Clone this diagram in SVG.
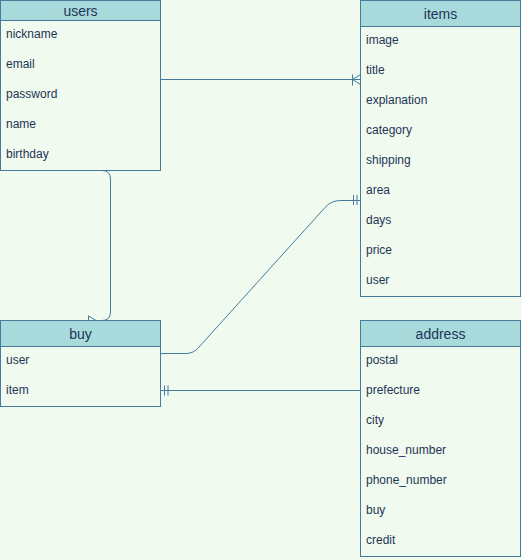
<svg xmlns="http://www.w3.org/2000/svg" width="522" height="560" viewBox="0 0 522 560">
<style>
.box{fill:#F1FAEE;stroke:#457B9D;stroke-width:1}
.hdr{fill:#A8DADC;stroke:#457B9D;stroke-width:1}
.t{font-family:"Liberation Sans",Arial,sans-serif;font-size:14px;fill:#1D3557;text-anchor:middle}
.r{font-family:"Liberation Sans",Arial,sans-serif;font-size:12px;fill:#1D3557}
.e{fill:none;stroke:#457B9D;stroke-width:1}
</style>
<rect width="522" height="560" fill="#F1FAEE"/>
<g id="connectors">
<path class="e" d="M160.5 79.5 H360.5"/>
<path class="e" d="M352.5 74.5 V85.5 M352.5 79.5 L360.5 74.5 M352.5 79.5 L360.5 84.5"/>
<path class="e" d="M96 170.5 H102 Q110.5 170.5 110.5 179 V312 Q110.5 320.5 102 320.5 H88"/>
<path class="e" d="M88.5 315.5 V325.5 M96 320.5 L88.5 316 M96 320.5 L88.5 325"/>
<path class="e" d="M160.5 353.5 H186 Q194 353.5 199 347 L325 207.5 Q331 200.5 341 200.5 H360.5"/>
<path class="e" d="M353.5 195 V205 M357 195 V205"/>
<path class="e" d="M160.5 390.5 H360.5"/>
<path class="e" d="M164.5 385.5 V395.5 M168 385.5 V395.5"/>
</g>
<g id="users">
<rect class="box" x="0.5" y="0.5" width="160" height="170"/>
<rect class="hdr" x="0.5" y="0.5" width="160" height="20"/>
<text class="t" x="80.5" y="16">users</text>
<text class="r" x="6" y="37.5">nickname</text>
<text class="r" x="6" y="67.5">email</text>
<text class="r" x="6" y="97.5">password</text>
<text class="r" x="6" y="127.5">name</text>
<text class="r" x="6" y="157.5">birthday</text>
</g>
<g id="items">
<rect class="box" x="360.5" y="0.5" width="160" height="296"/>
<rect class="hdr" x="360.5" y="0.5" width="160" height="26"/>
<text class="t" x="440.5" y="19">items</text>
<text class="r" x="366" y="43.5">image</text>
<text class="r" x="366" y="73.5">title</text>
<text class="r" x="366" y="103.5">explanation</text>
<text class="r" x="366" y="133.5">category</text>
<text class="r" x="366" y="163.5">shipping</text>
<text class="r" x="366" y="193.5">area</text>
<text class="r" x="366" y="223.5">days</text>
<text class="r" x="366" y="253.5">price</text>
<text class="r" x="366" y="283.5">user</text>
</g>
<g id="buy">
<rect class="box" x="0.5" y="320.5" width="160" height="86"/>
<rect class="hdr" x="0.5" y="320.5" width="160" height="26"/>
<text class="t" x="80.5" y="339">buy</text>
<text class="r" x="6" y="363.5">user</text>
<text class="r" x="6" y="393.5">item</text>
</g>
<g id="address">
<rect class="box" x="360.5" y="320.5" width="160" height="236"/>
<rect class="hdr" x="360.5" y="320.5" width="160" height="26"/>
<text class="t" x="440.5" y="339">address</text>
<text class="r" x="366" y="363.5">postal</text>
<text class="r" x="366" y="393.5">prefecture</text>
<text class="r" x="366" y="423.5">city</text>
<text class="r" x="366" y="453.5">house_number</text>
<text class="r" x="366" y="483.5">phone_number</text>
<text class="r" x="366" y="513.5">buy</text>
<text class="r" x="366" y="543.5">credit</text>
</g>
</svg>
